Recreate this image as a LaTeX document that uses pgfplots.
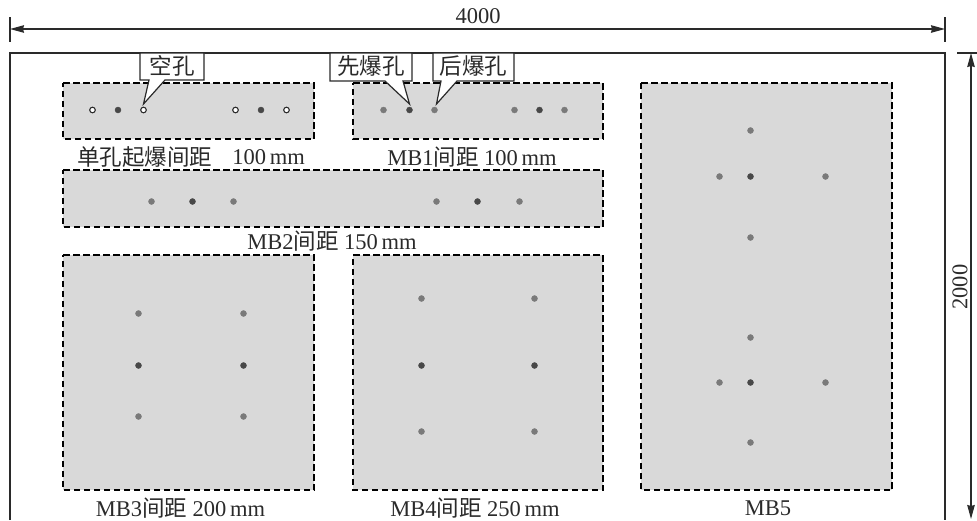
\documentclass[border=0pt]{standalone}
\usepackage{fontspec}
\setmainfont{Liberation Serif}
\newfontfamily\cjk{Noto Sans CJK SC}
\usepackage{pgfplots}
\pgfplotsset{compat=1.18}
\usetikzlibrary{arrows.meta}
\definecolor{panel}{HTML}{D9D9D9}
\definecolor{ink}{HTML}{2A2A2A}
\definecolor{holeA}{HTML}{7A7A7A}
\definecolor{holeB}{HTML}{484848}

\pgfplotsset{
    panel/.style={fill=panel, draw=black, line width=1.6pt, dash pattern=on 6.5pt off 3.5pt},
    frame/.style={draw=ink, line width=1.4pt},
    dim/.style={draw=ink, line width=1.2pt},
    callout/.style={fill=white, draw=ink, line width=1.2pt},
    later/.style={only marks, mark=*, mark size=3pt, mark options={fill=holeA, draw=holeA}},
    first/.style={only marks, mark=*, mark size=3pt, mark options={fill=holeB, draw=holeB}},
    empty/.style={only marks, mark=*, mark size=2.8pt, mark options={fill=white, draw=ink, line width=1.1pt}},
    ends/.style={{Stealth[length=14pt,width=7.5pt,inset=1pt]}-{Stealth[length=14pt,width=7.5pt,inset=1pt]}},
}
\tikzset{lab/.style={inner sep=0pt, font=\fontsize{22.5}{22.5}\selectfont, text=ink}}

\begin{document}
\begin{tikzpicture}
\begin{axis}[
    at={(0,0)}, anchor=south west,
    scale only axis, width=977pt, height=520pt,
    xmin=0, xmax=977, ymin=0, ymax=520,
    y dir=reverse,
    hide axis, clip=false, no markers,
]
% frame, open at the bottom
\addplot[frame] coordinates {(10,520)(10,53)(945,53)(945,520)};

% dimension lines
\addplot[dim, ends] coordinates {(10,29)(945,29)};
\addplot[dim] coordinates {(10,17)(10,42)};
\addplot[dim] coordinates {(945,17)(945,42)};
\addplot[dim] coordinates {(957,53)(977,53)};
\addplot[dim, ends] coordinates {(971,53)(971,519)};

% test panels
\addplot[panel] coordinates {(63,83)(314,83)(314,139)(63,139)} -- cycle;
\addplot[panel] coordinates {(353,83)(603,83)(603,139)(353,139)} -- cycle;
\addplot[panel] coordinates {(63,170)(603,170)(603,227)(63,227)} -- cycle;
\addplot[panel] coordinates {(63,255)(314,255)(314,490)(63,490)} -- cycle;
\addplot[panel] coordinates {(353,255)(603,255)(603,490)(353,490)} -- cycle;
\addplot[panel] coordinates {(641,83)(892,83)(892,490)(641,490)} -- cycle;

% holes
\addplot[empty] coordinates {(92.5,110)(143.5,110)(235.5,110)(286.5,110)};
\addplot[first] coordinates {(118,110)(261,110)};
\addplot[later] coordinates {(383.5,110)(434.5,110)(514.5,110)(564.5,110)};
\addplot[first] coordinates {(409.5,110)(539.5,110)};
\addplot[later] coordinates {(151.5,201.5)(233.5,201.5)(436.5,201.5)(519.5,201.5)};
\addplot[first] coordinates {(192.5,201.5)(477.5,201.5)};
\addplot[later] coordinates {(138.5,313.5)(243.5,313.5)(138.5,416.5)(243.5,416.5)};
\addplot[first] coordinates {(138.5,365.5)(243.5,365.5)};
\addplot[later] coordinates {(421.5,298.5)(534.5,298.5)(421.5,431.5)(534.5,431.5)};
\addplot[first] coordinates {(421.5,365.5)(534.5,365.5)};
\addplot[later] coordinates {(750.5,130.5)(719.5,176.5)(825.5,176.5)(750.5,237.5)(750.5,337.5)(719.5,382.5)(825.5,382.5)(750.5,442.5)};
\addplot[first] coordinates {(750.5,176.5)(750.5,382.5)};

% callouts
\addplot[callout] coordinates {(140,53)(204,53)(204,80)(165,80)(143.5,104)(149,80)(140,80)} -- cycle;
\addplot[callout] coordinates {(330,53)(412,53)(412,81)(403,81)(409.5,104)(385,81)(330,81)} -- cycle;
\addplot[callout] coordinates {(433,53)(514,53)(514,81)(457,81)(436.5,104)(441,81)(433,81)} -- cycle;

\node[lab] at (axis cs:172,66) {{\cjk 空孔}};
\node[lab] at (axis cs:371,66) {{\cjk 先爆孔}};
\node[lab] at (axis cs:473.5,66) {{\cjk 后爆孔}};

% labels
\node[lab] at (axis cs:478,16) {4000};
\node[lab, rotate=90] at (axis cs:960,287) {2000};
\node[lab, anchor=west] at (axis cs:77,157) {{\cjk 单孔起爆间距}};
\node[lab, anchor=east] at (axis cs:305,157) {100\,mm};
\node[lab] at (axis cs:472,157) {MB1{\cjk 间距} 100\,mm};
\node[lab] at (axis cs:332,241) {MB2{\cjk 间距} 150\,mm};
\node[lab] at (axis cs:180.5,508) {MB3{\cjk 间距} 200\,mm};
\node[lab] at (axis cs:475,508) {MB4{\cjk 间距} 250\,mm};
\node[lab] at (axis cs:768,508) {MB5};
\end{axis}
\pgfresetboundingbox
\path[use as bounding box] (0,0) rectangle (977pt,520pt);
\end{tikzpicture}
\end{document}
